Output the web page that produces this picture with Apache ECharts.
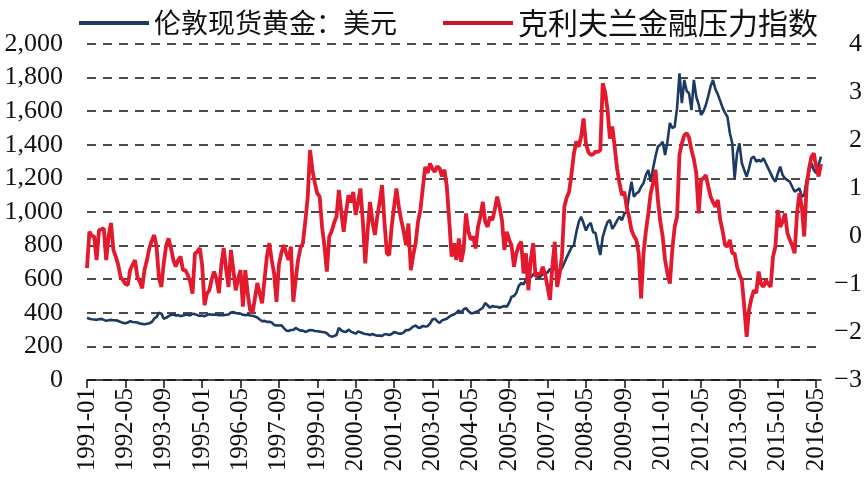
<!DOCTYPE html>
<html>
<head>
<meta charset="utf-8">
<script src="https://cdn.jsdelivr.net/npm/echarts@6/dist/echarts.min.js"></script>
<style>
  html, body { margin: 0; padding: 0; background: #fff; }
  #main { width: 868px; height: 490px; }
</style>
</head>
<body>
<div id="main"></div>
<script>
// 月度数据 1991-01 ~ 2016-07
var months = [];
for (var y = 1991; y <= 2016; y++) {
    for (var m = 1; m <= 12; m++) {
        if (y === 2016 && m > 7) break;
        months.push(y + '-' + (m < 10 ? '0' + m : m));
    }
}

// 伦敦现货黄金：美元
var gold = [
    370, 365, 362, 360, 358, 362, 364, 358, 352, 356, 358, 356,
    355, 352, 345, 340, 338, 342, 350, 345, 344, 342, 336, 334,
    332, 335, 338, 345, 365, 375, 400, 395, 365, 370, 380, 388,
    390, 384, 386, 380, 384, 388, 388, 384, 394, 392, 386, 382,
    384, 380, 386, 392, 388, 390, 388, 386, 386, 385, 388, 390,
    402, 405, 398, 396, 395, 388, 386, 388, 384, 382, 378, 372,
    360, 350, 352, 346, 346, 342, 328, 325, 324, 326, 310, 295,
    292, 298, 298, 310, 302, 294, 294, 286, 292, 298, 296, 292,
    290, 288, 286, 284, 278, 264, 258, 262, 268, 310, 296, 288,
    286, 300, 288, 282, 276, 288, 284, 278, 274, 272, 268, 274,
    268, 264, 264, 262, 272, 272, 268, 274, 285, 282, 276, 276,
    282, 298, 296, 306, 318, 324, 312, 312, 322, 318, 320, 336,
    360, 365, 350, 340, 355, 360, 365, 377, 385, 390, 400, 415,
    400, 420, 428, 410, 398, 398, 405, 410, 420, 430, 458, 445,
    430, 440, 436, 436, 430, 436, 440, 436, 460, 496, 500, 520,
    560, 577, 570, 595, 636, 610, 630, 625, 610, 615, 630, 635,
    640, 660, 650, 670, 655, 650, 665, 696, 730, 760, 790, 803,
    880, 940, 972, 933, 890, 920, 935, 880, 875, 800, 744, 851,
    900, 940, 952, 900, 922, 950, 972, 950, 990, 1002, 1100, 1180,
    1091, 1110, 1120, 1150, 1172, 1220, 1250, 1180, 1260, 1330, 1389, 1400,
    1418, 1339, 1420, 1530, 1500, 1508, 1620, 1826, 1648, 1786, 1720, 1706,
    1607, 1786, 1686, 1640, 1577, 1600, 1637, 1690, 1750, 1786, 1730, 1700,
    1660, 1620, 1590, 1567, 1470, 1409, 1200, 1350, 1409, 1290, 1250, 1210,
    1260, 1320, 1330, 1300, 1310, 1300, 1320, 1290, 1260, 1230, 1200, 1180,
    1230, 1270, 1220, 1200, 1190, 1180, 1150, 1121, 1130, 1141, 1091, 1100,
    1190, 1240, 1290, 1250, 1230, 1280, 1329
];

// 克利夫兰金融压力指数
var stress = [
    -0.67, 0.09, 0.0, -0.01, -0.5, 0.12, 0.14, 0.16, -0.5, 0.0, 0.27, -0.29,
    -0.43, -0.6, -0.85, -0.92, -1.0, -1.02, -0.71, -0.6, -0.5, -0.85, -0.95, -1.09,
    -0.7, -0.5, -0.25, -0.1, 0.02, -0.22, -0.88, -1.06, -0.57, -0.2, -0.05, -0.25,
    -0.5, -0.64, -0.5, -0.43, -0.71, -0.71, -0.81, -0.95, -1.2, -0.36, -0.33, -0.25,
    -0.6, -1.44, -1.2, -1.13, -0.9, -0.74, -0.9, -1.19, -0.6, -0.25, -0.7, -1.06,
    -0.29, -0.7, -1.13, -0.9, -0.71, -1.47, -0.71, -1.2, -1.54, -1.6, -1.3, -0.98,
    -1.2, -1.4, -0.9, -0.43, -0.15, -0.5, -0.78, -1.37, -0.6, -0.36, -0.19, -0.35,
    -0.5, -0.22, -1.37, -0.9, -0.5, -0.25, -0.15, 0.3, 0.8, 1.79, 1.37, 1.1,
    0.89, 0.82, 0.19, -0.22, -0.74, -0.01, 0.1, 0.27, 0.4, 0.96, 0.5, 0.09,
    0.5, 0.85, 0.7, 0.92, 0.44, 0.7, 0.99, 0.3, -0.57, 0.12, 0.71, 0.3,
    0.02, 0.4, 0.7, 1.06, 0.3, -0.36, -0.4, 0.19, 0.6, 0.99, 0.6, 0.33,
    0.1, -0.19, 0.26, -0.71, -0.4, -0.15, 0.3, 0.54, 1.0, 1.44, 1.31, 1.51,
    1.4, 1.34, 1.45, 1.41, 1.24, 1.38, 1.03, 0.33, -0.43, -0.15, -0.5, -0.05,
    -0.54, -0.29, 0.47, 0.1, -0.08, -0.01, -0.26, 0.19, 0.4, 0.71, 0.3, 0.19,
    0.4, 0.33, 0.55, 0.82, 0.6, 0.33, -0.29, 0.09, -0.08, -0.2, -0.64, -0.36,
    -0.2, -0.12, -0.78, -0.36, -1.13, -0.5, -0.15, -0.85, -0.78, -0.8, -0.64, -0.8,
    -1.06, -1.33, -0.64, -0.12, -1.06, -0.8, -0.43, 0.61, 0.8, 0.92, 1.3, 1.72,
    1.97, 1.86, 2.07, 2.45, 1.93, 1.75, 1.69, 1.7, 1.76, 1.75, 1.79, 3.18,
    3.0, 2.63, 2.03, 2.28, 1.86, 1.4, 1.1, 0.85, 0.92, 0.6, 0.4, 0.12,
    0.0, -0.08, -0.36, -1.3, -0.36, 0.1, 0.47, 0.89, 1.1, 1.38, 0.75, 0.3,
    -0.01, -0.5, -0.78, -0.99, -0.29, 0.19, 0.4, 1.7, 1.93, 2.1, 2.14, 2.05,
    1.79, 1.6, 1.31, 0.47, 1.17, 1.2, 1.27, 1.03, 0.82, 0.7, 0.61, 0.75,
    0.33, 0.1, -0.19, -0.22, -0.08, -0.36, -0.36, -0.64, -0.8, -0.92, -1.47, -2.1,
    -1.54, -1.3, -1.13, -1.19, -0.74, -1.0, -1.06, -0.92, -1.0, -1.06, -0.43, -0.22,
    0.54, 0.19, 0.3, 0.47, 0.06, -0.08, -0.2, -0.36, 0.47, 0.89, 0.61, -0.01,
    1.03, 1.4, 1.65, 1.72, 1.44, 1.24, 1.5
];

var serif = '"Liberation Serif", "Times New Roman", serif';

var myChart = echarts.init(document.getElementById('main'));
var option = {
    animation: false,
    backgroundColor: '#fff',
    legend: {
        top: 3,
        left: 74,
        itemWidth: 70,
        itemHeight: 4,
        itemGap: 46,
        icon: 'rect',
        textStyle: {
            fontFamily: '"Noto Sans CJK SC"',
            fontSize: 27,
            color: '#111'
        },
        data: [
            { name: '伦敦现货黄金：美元', textStyle: { fontSize: 27 } },
            { name: '克利夫兰金融压力指数', textStyle: { fontSize: 30 } }
        ]
    },
    grid: {
        left: 87,
        right: 47,
        top: 44,
        bottom: 110
    },
    xAxis: {
        type: 'category',
        data: months,
        boundaryGap: false,
        axisLine: { lineStyle: { color: '#111', width: 1.5 } },
        axisTick: {
            interval: 15,
            length: 8,
            lineStyle: { color: '#111', width: 1.5 }
        },
        axisLabel: {
            interval: 15,
            rotate: 90,
            margin: 8,
            fontFamily: serif,
            fontSize: 25,
            color: '#111'
        }
    },
    yAxis: [
        {
            type: 'value',
            min: 0,
            max: 2000,
            interval: 200,
            axisLine: { show: false },
            axisTick: { show: false },
            splitLine: {
                lineStyle: { color: '#111', width: 1.6, type: [9, 7] }
            },
            axisLabel: {
                margin: 24,
                fontFamily: serif,
                fontSize: 26,
                color: '#111',
                formatter: function (v) {
                    return String(v).replace(/\B(?=(\d{3})+(?!\d))/g, ',');
                }
            }
        },
        {
            type: 'value',
            min: -3,
            max: 4,
            interval: 1,
            axisLine: { show: false },
            axisTick: { show: false },
            splitLine: { show: false },
            axisLabel: {
                margin: 41,
                align: 'right',
                fontFamily: serif,
                fontSize: 26,
                color: '#111',
                formatter: function (v) {
                    return v < 0 ? '\u2212' + (-v) : String(v);
                }
            }
        }
    ],
    series: [
        {
            name: '伦敦现货黄金：美元',
            type: 'line',
            yAxisIndex: 0,
            data: gold,
            symbol: 'none',
            lineStyle: { color: '#1c3a63', width: 2.6 },
            itemStyle: { color: '#1c3a63' }
        },
        {
            name: '克利夫兰金融压力指数',
            type: 'line',
            yAxisIndex: 1,
            data: stress,
            symbol: 'none',
            lineStyle: { color: '#e3192d', width: 3.8 },
            itemStyle: { color: '#c8172a' }
        }
    ]
};
myChart.setOption(option);
</script>
</body>
</html>
